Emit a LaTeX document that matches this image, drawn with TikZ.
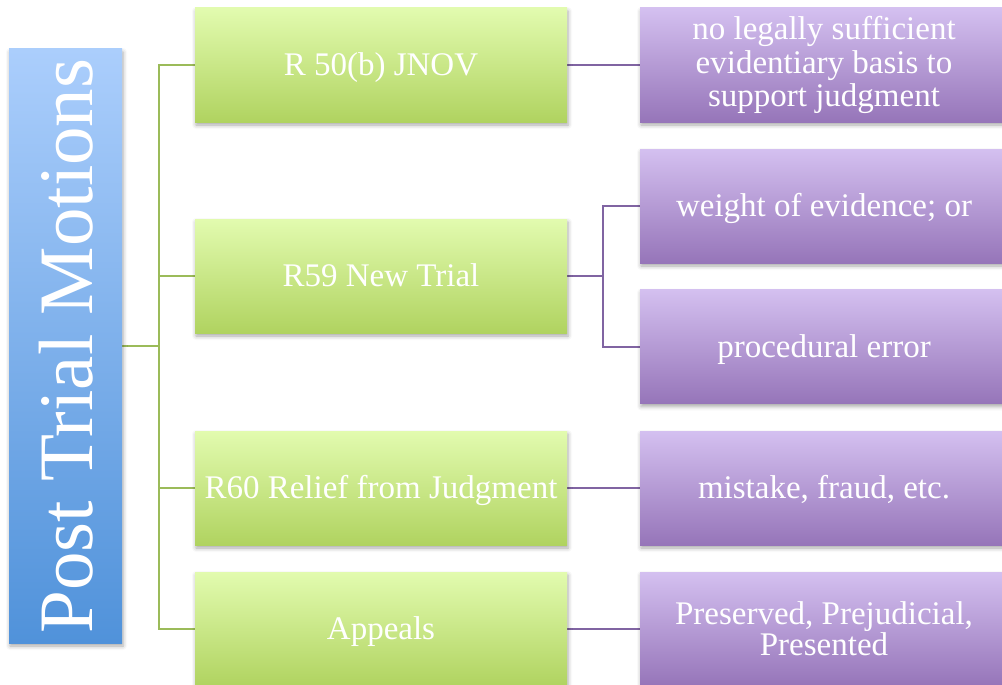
\documentclass[tikz,border=0pt]{standalone}
\usepackage{fontspec}
\setmainfont{Liberation Serif}
\usetikzlibrary{shadows.blur,backgrounds}
\definecolor{blueTop}{RGB}{171,206,252}
\definecolor{blueBot}{RGB}{80,146,218}
\definecolor{greenTop}{RGB}{226,251,175}
\definecolor{greenBot}{RGB}{176,211,96}
\definecolor{purpTop}{RGB}{212,192,240}
\definecolor{purpBot}{RGB}{150,117,185}
\definecolor{greenLine}{RGB}{155,187,89}
\definecolor{purpLine}{RGB}{128,100,162}

\begin{document}
\begin{tikzpicture}[x=1pt,y=-1pt,
  softshadow/.style={blur shadow={shadow xshift=1pt,shadow yshift=-3pt,
      shadow blur radius=4pt,shadow opacity=35}},
  panel/.style={rectangle, inner sep=0pt, text=white,
      font=\fontsize{33}{34}\selectfont, softshadow},
  capcentered/.style={text height=21.8pt, text depth=0pt},
  titlebox/.style={panel, top color=blueTop, bottom color=blueBot,
      minimum width=113pt, minimum height=594pt},
  titletext/.style={rotate=90, inner sep=0pt, text=white,
      font=\fontsize{77}{80}\selectfont, text height=51pt, text depth=0pt},
  rulebox/.style={panel, top color=greenTop, bottom color=greenBot,
      minimum width=372pt, minimum height=114pt, capcentered},
  groundbox/.style={panel, top color=purpTop, bottom color=purpBot,
      minimum width=368pt, minimum height=114pt},
  greenlink/.style={draw=greenLine, line width=2pt},
  purplelink/.style={draw=purpLine, line width=2pt}
]
\useasboundingbox (0,0) rectangle (1002,685);

% left title bar
\node[titlebox] (title) at (65.5,346) {};
\node[titletext] (titletext) at (67,346) {Post Trial Motions};

% the four motions
\node[rulebox] (g1) at (381,65)  {R 50(b) JNOV};
\node[rulebox] (g2) at (381,276) {R59 New Trial};
\node[rulebox] (g3) at (381,488) {R60 Relief from Judgment};
\node[rulebox] (g4) at (381,629) {Appeals};

% grounds for each motion
\node[groundbox, align=center, font=\fontsize{33}{33.5}\selectfont] (p1) at (824,65)
  {no legally sufficient\\evidentiary basis to\\support judgment\rule[-7pt]{0pt}{7pt}};
\node[groundbox, capcentered] (p2) at (824,206)   {weight of evidence; or};
\node[groundbox, capcentered] (p3) at (824,346.5) {procedural error};
\node[groundbox, capcentered] (p4) at (824,488)   {mistake, fraud, etc.};
\node[groundbox, align=center, font=\fontsize{33}{29}\selectfont] (p5) at (824,629)
  {Preserved, Prejudicial,\\Presented};

% connectors behind the boxes
\begin{pgfonlayer}{background}
  \coordinate (gtrunk) at (159,346);
  \coordinate (ptrunk) at (603,276);
  \draw[greenlink] (title.east) -- (gtrunk);
  \draw[greenlink] (gtrunk) |- (g1.west);
  \draw[greenlink] (gtrunk) |- (g2.west);
  \draw[greenlink] (gtrunk) |- (g3.west);
  \draw[greenlink] (gtrunk) |- (g4.west);
  \draw[purplelink] (g1.east) -- (p1.west);
  \draw[purplelink] (g2.east) -- (ptrunk);
  \draw[purplelink] (ptrunk) |- (p2.west);
  \draw[purplelink] (ptrunk) |- (p3.west);
  \draw[purplelink] (g3.east) -- (p4.west);
  \draw[purplelink] (g4.east) -- (p5.west);
\end{pgfonlayer}
\end{tikzpicture}
\end{document}
